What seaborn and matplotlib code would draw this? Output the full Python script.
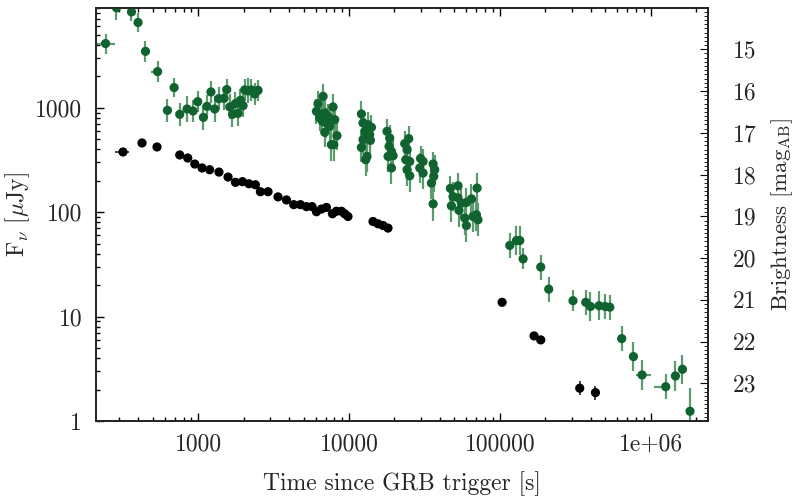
import numpy as np
import pandas as pd
import matplotlib
matplotlib.use("Agg")
import matplotlib.pyplot as plt
import seaborn as sns
from matplotlib.ticker import FixedLocator, FixedFormatter, LogLocator, NullFormatter, MultipleLocator

# ---------------- data ----------------
green_t = [243, 287, 361, 399, 447, 538, 692, 625, 754, 843, 924, 993, 1082, 1143, 1215, 1286,
           1367, 1483, 1546, 1619, 1687, 1766, 1837, 1905, 1983, 2033, 2138, 2252, 2370, 2494,
           6730, 6223, 6078, 6394, 6902, 6668, 7083, 7447, 7834, 8038, 7447, 6902, 8318, 7640, 7918, 7259, 6557,
           12080, 12380, 13360, 14080, 12710, 13710, 12380, 13860, 12080, 13150, 12900,
           17860, 18620, 18420, 19100, 18150, 19600, 19100,
           24890, 23390, 24250, 23790, 25270, 24250, 25270,
           29790, 30980, 29450, 30980, 36100, 37000, 35170, 36460, 36100,
           46990, 52820, 48960, 52820, 55620, 47730, 53580, 60000, 64840, 70630, 58480, 60000, 66350, 69950, 71600,
           116400, 128900, 135600, 142600, 186700, 210900, 305600, 371200, 398900, 455000, 498900, 535900,
           643200, 768600, 877000, 1259000, 1459000, 1625000, 1824000]
green_f = [4120, 9060, 8280, 6550, 3470, 2220, 1560, 944, 865, 973, 931, 1143, 809, 1031, 1417, 973,
           1222, 1230, 1492, 1018, 865, 1095, 884, 1178, 1047, 1482, 1449, 1482, 1356, 1468,
           1286, 1095, 924, 798, 892, 741, 715, 741, 1018, 769, 663, 581, 540, 443, 443, 827, 859,
           872, 715, 689, 649, 594, 552, 495, 487, 417, 342, 318,
           594, 513, 427, 382, 342, 347, 265,
           506, 453, 396, 318, 306, 255, 223,
           327, 306, 265, 237, 289, 255, 190, 220, 120,
           169, 179, 141, 137, 122, 115, 104, 124, 134, 170, 87.8, 74.5, 90.9, 94.4, 84.6,
           48.0, 53.5, 53.5, 35.7, 29.8, 18.3, 14.2, 13.7, 12.5, 12.7, 12.5, 12.3,
           6.15, 4.14, 2.76, 2.13, 2.70, 3.13, 1.24]
green_magerr = [0.24, 0.29, 0.22, 0.22, 0.25, 0.25, 0.23, 0.27, 0.27, 0.3, 0.27, 0.25, 0.3, 0.27, 0.27, 0.3,
                0.27, 0.27, 0.25, 0.3, 0.3, 0.27, 0.3, 0.27, 0.27, 0.27, 0.3, 0.27, 0.27, 0.25,
                0.3, 0.3, 0.3, 0.3, 0.3, 0.3, 0.35, 0.3, 0.3, 0.3, 0.35, 0.35, 0.35, 0.38, 0.38, 0.3, 0.3,
                0.3, 0.3, 0.3, 0.3, 0.33, 0.33, 0.35, 0.35, 0.35, 0.38, 0.38,
                0.3, 0.3, 0.35, 0.35, 0.38, 0.38, 0.38,
                0.3, 0.3, 0.35, 0.38, 0.38, 0.4, 0.4,
                0.3, 0.3, 0.35, 0.38, 0.3, 0.35, 0.38, 0.38, 0.4,
                0.3, 0.3, 0.35, 0.35, 0.38, 0.38, 0.4, 0.35, 0.35, 0.35, 0.4, 0.4, 0.38, 0.38, 0.4,
                0.3, 0.35, 0.35, 0.25, 0.3, 0.3, 0.25, 0.3, 0.35, 0.35, 0.3, 0.3,
                0.3, 0.35, 0.35, 0.3, 0.35, 0.35, 0.55]
# horizontal (time) bars on a few green points
green_xbar_t = [243, 538, 142600, 643200, 877000, 1259000]
green_xbar_lo = [212, 490, 135000, 600000, 805000, 1050000]
green_xbar_hi = [280, 570, 150000, 690000, 1010000, 1340000]

black_t = [317, 424, 533, 754, 852, 949, 1060, 1191, 1373, 1577, 1766, 1965, 2172, 2395, 2584, 2903,
           3381, 3845, 4300, 4760, 5215, 5685, 6080, 6560, 7080, 7760, 8245, 8910, 9360, 9840,
           14420, 15560, 16800, 18130, 103500, 168700, 186700, 338600, 430500]
black_f = [377, 460, 421, 353, 330, 289, 265, 255, 242, 217, 193, 196, 187, 183, 157, 157,
           140, 131, 118, 118, 113, 113, 101, 107, 111, 96.5, 102, 102, 96.5, 90.9,
           81.4, 77.4, 74.5, 70.4, 13.7, 6.53, 5.98, 2.06, 1.87]
black_magerr = [0.03] * 34 + [0.05, 0.06, 0.06, 0.17, 0.17]
black_xbar_t = [317]
black_xbar_lo = [279]
black_xbar_hi = [349]

x_ticks = [1000, 10000, 100000, 1000000]
x_ticklabels = ["1000", "10000", "100000", "1e+06"]
y_ticks = [1, 10, 100, 1000]
y_ticklabels = ["1", "10", "100", "1000"]
mag_ticks = [15, 16, 17, 18, 19, 20, 21, 22, 23]
ZP = 23.9  # AB zero point for microJansky

GREEN = "#10632f"
GREEN_BAR = "#5c9a70"
FS = 17

# ---------------- figure ----------------
sns.set_style("ticks")
plt.rcParams["font.family"] = ["cmr10", "DejaVu Serif"]
plt.rcParams["mathtext.fontset"] = "cm"
plt.rcParams["axes.formatter.use_mathtext"] = True
plt.rcParams["axes.unicode_minus"] = False

fig = plt.figure(figsize=(7.96, 5.01), dpi=100)
W, H = 796, 501
ax = fig.add_axes([96 / W, 1 - 421 / H, 612 / W, 413.5 / H])

df = pd.DataFrame({
    "t": green_t + black_t,
    "F": green_f + black_f,
    "merr": green_magerr + black_magerr,
    "series": ["optical"] * len(green_t) + ["xray"] * len(black_t),
})
df["lo"] = df["F"] - df["F"] * 10 ** (-0.4 * df["merr"])
df["hi"] = df["F"] * 10 ** (0.4 * df["merr"]) - df["F"]

g = df[df.series == "optical"]
b = df[df.series == "xray"]
ax.errorbar(g["t"], g["F"], yerr=[g["lo"], g["hi"]], fmt="none", ecolor=GREEN_BAR, elinewidth=1.6, capsize=0, zorder=2)
ax.errorbar(b["t"], b["F"], yerr=[b["lo"], b["hi"]], fmt="none", ecolor="#222222", elinewidth=1.2, capsize=0, zorder=2)

gx_f = [green_f[green_t.index(t)] for t in green_xbar_t]
ax.errorbar(green_xbar_t, gx_f,
            xerr=[np.array(green_xbar_t) - np.array(green_xbar_lo), np.array(green_xbar_hi) - np.array(green_xbar_t)],
            fmt="none", ecolor=GREEN_BAR, elinewidth=1.6, capsize=0, zorder=2)
bx_f = [black_f[black_t.index(t)] for t in black_xbar_t]
ax.errorbar(black_xbar_t, bx_f,
            xerr=[np.array(black_xbar_t) - np.array(black_xbar_lo), np.array(black_xbar_hi) - np.array(black_xbar_t)],
            fmt="none", ecolor="#222222", elinewidth=1.2, capsize=0, zorder=2)

sns.scatterplot(data=df, x="t", y="F", hue="series", palette={"optical": GREEN, "xray": "black"},
                s=44, linewidth=0, legend=False, ax=ax, zorder=3)

ax.set_xscale("log")
ax.set_yscale("log")
ax.set_xlim(210, 2.4e6)
ymax = 10 ** ((ZP - 14.0) / 2.5)
ax.set_ylim(1, ymax)

ax.xaxis.set_major_locator(FixedLocator(x_ticks))
ax.xaxis.set_major_formatter(FixedFormatter(x_ticklabels))
ax.xaxis.set_minor_locator(LogLocator(base=10, subs=np.arange(2, 10)))
ax.xaxis.set_minor_formatter(NullFormatter())
ax.yaxis.set_major_locator(FixedLocator(y_ticks))
ax.yaxis.set_major_formatter(FixedFormatter(y_ticklabels))
ax.yaxis.set_minor_locator(LogLocator(base=10, subs=np.arange(2, 10)))
ax.yaxis.set_minor_formatter(NullFormatter())

ax.tick_params(which="both", direction="in", top=True, right=False, labelsize=FS, width=1.0, color="black")
ax.tick_params(which="major", length=6)
ax.tick_params(which="minor", length=3)
ax.tick_params(axis="y", pad=10)
ax.tick_params(axis="x", pad=9)
for sp in ax.spines.values():
    sp.set_linewidth(1.2)
    sp.set_color("black")

ax.set_xlabel("Time since GRB trigger [s]", fontsize=FS, va="center")
ax.set_ylabel(r"F$_\nu$ [$\mu$Jy]", fontsize=FS, va="center")
ax.xaxis.set_label_coords(0.5, -0.151)
ax.yaxis.set_label_coords(-0.128, 0.5)

ax2 = ax.twinx()
ax2.set_ylim(ZP, ZP - 2.5 * np.log10(ymax))
ax2.yaxis.set_major_locator(FixedLocator(mag_ticks))
ax2.yaxis.set_major_formatter(FixedFormatter([str(m) for m in mag_ticks]))
ax2.yaxis.set_minor_locator(MultipleLocator(0.1))
ax2.tick_params(which="both", direction="in", labelsize=FS, color="black")
ax2.tick_params(which="major", length=6, pad=18)
ax2.tick_params(which="minor", length=3)
ax2.set_ylabel(r"Brightness [mag$_{\rm AB}$]", fontsize=16.5, va="center")
ax2.yaxis.set_label_coords(1.121, 0.5)
for sp in ax2.spines.values():
    sp.set_linewidth(1.2)

fig.savefig("out.png", dpi=100)
